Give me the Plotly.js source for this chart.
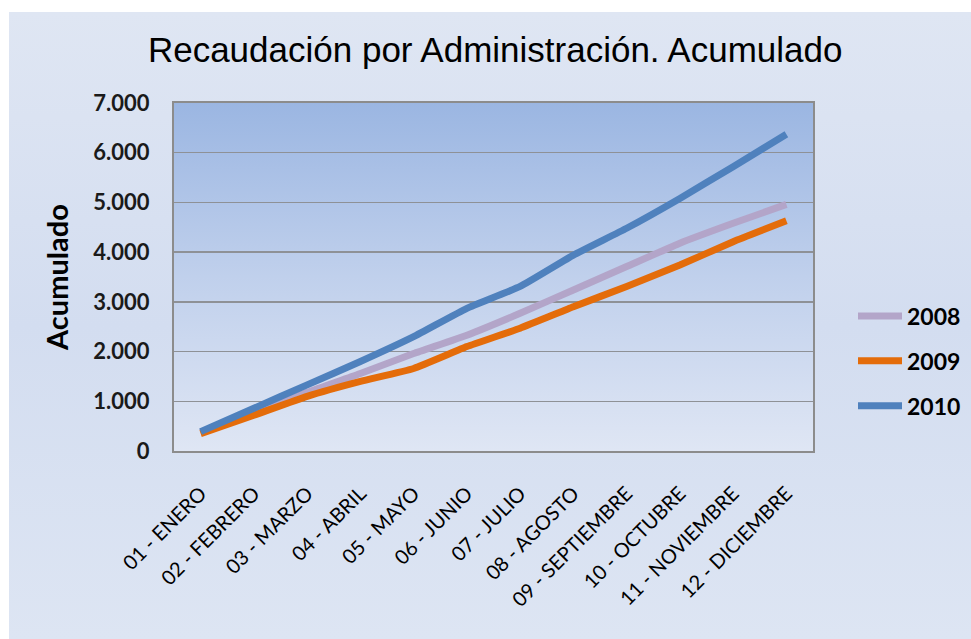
<!DOCTYPE html>
<html>
<head>
<meta charset="utf-8">
<script src="https://cdn.plot.ly/plotly-3.0.1.min.js"></script>
<style>
html,body{margin:0;padding:0;background:#ffffff;}
#chart{width:971px;height:639px;}
</style>
</head>
<body>
<div id="chart"></div>
<script>
const months = ["01 - ENERO","02 - FEBRERO","03 - MARZO","04 - ABRIL","05 - MAYO","06 - JUNIO","07 - JULIO","08 - AGOSTO","09 - SEPTIEMBRE","10 - OCTUBRE","11 - NOVIEMBRE","12 - DICIEMBRE"];
const seriesNames = ["2008","2009","2010"];
const values2008 = [370, 740, 1180, 1560, 1960, 2330, 2770, 3240, 3710, 4180, 4580, 4960];
const values2009 = [350, 720, 1100, 1400, 1660, 2100, 2470, 2900, 3310, 3740, 4210, 4630];
const values2010 = [390, 860, 1330, 1800, 2300, 2870, 3310, 3940, 4480, 5080, 5720, 6370];
const yTickVals = [0,1000,2000,3000,4000,5000,6000,7000];
const yTickText = ["0","1.000","2.000","3.000","4.000","5.000","6.000","7.000"];
const colors = ["#b3a5c9","#e46c0a","#4f81bd"];

function svgGrad(stops, w, h){
  let s = '<svg xmlns="http://www.w3.org/2000/svg" width="'+w+'" height="'+h+'" preserveAspectRatio="none"><defs><linearGradient id="g" x1="0" y1="0" x2="0" y2="1">';
  stops.forEach(function(st){ s += '<stop offset="'+st[0]+'" stop-color="'+st[1]+'"/>'; });
  s += '</linearGradient></defs><rect width="'+w+'" height="'+h+'" fill="url(#g)"/></svg>';
  return 'data:image/svg+xml;charset=utf-8,' + encodeURIComponent(s);
}

const allVals = [values2008, values2009, values2010];
const traces = seriesNames.map(function(n,i){
  return {
    x: months, y: allVals[i], name: n, type: 'scatter', mode: 'lines',
    line: {color: colors[i], width: 7, shape: 'spline', smoothing: 0.4},
    legendgroup: 'g'+i, hoverinfo: 'skip'
  };
});

const L = 174, R = 813, T = 103, B = 451, W = 971, H = 639;
const pw = R - L, ph = B - T;
function px2x(p){ return (p - L) / pw; }
function py2y(p){ return (B - p) / ph; }

const layout = {
  width: W, height: H,
  margin: {l: L, r: W - R, t: T, b: H - B, pad: 0, autoexpand: false},
  paper_bgcolor: '#ffffff',
  plot_bgcolor: 'rgba(0,0,0,0)',
  showlegend: true,
  title: {
    text: 'Recaudación por Administración. Acumulado',
    font: {family: 'Liberation Sans, Arial, sans-serif', size: 35, color: '#000000'},
    x: 0.51, xanchor: 'center', xref: 'container',
    y: 1 - 50/639, yanchor: 'middle', yref: 'container'
  },
  xaxis: {
    type: 'category',
    range: [-0.5, months.length - 0.5],
    tickangle: -45,
    tickfont: {family: 'Lato, Open Sans, sans-serif', size: 20, color: '#000000'},
    ticklabelstandoff: 21,
    showgrid: false,
    showline: true, linecolor: '#8c8c8c', linewidth: 2, mirror: true,
    ticks: '', zeroline: false, fixedrange: true
  },
  yaxis: {
    range: [0, 7000],
    tickvals: yTickVals, ticktext: yTickText,
    tickfont: {family: 'Lato, Open Sans, sans-serif', size: 22, color: '#1a1a1a', weight: 'bold'},
    ticklabelstandoff: 18,
    showgrid: true, gridcolor: '#8e9196', gridwidth: 1.5,
    showline: true, linecolor: '#8c8c8c', linewidth: 2, mirror: true,
    ticks: '', zeroline: false, fixedrange: true,
    title: {text: 'Acumulado', standoff: 16,
      font: {family: 'Lato, Open Sans, sans-serif', size: 29, color: '#000000', weight: 'bold'}}
  },
  legend: {
    xref: 'container', yref: 'container',
    x: 966 / W, xanchor: 'right',
    y: 1 - 361 / H, yanchor: 'middle',
    traceorder: 'grouped', tracegroupgap: 12,
    itemwidth: 44,
    bgcolor: 'rgba(0,0,0,0)',
    font: {family: 'Lato, Open Sans, sans-serif', size: 23, color: '#000000', weight: 'bold'}
  },
  images: [
    {
      source: svgGrad([[0,'#dfe6f3'],[0.5,'#d3ddf0'],[1,'#dde5f3']], 100, 100),
      xref: 'paper', yref: 'paper',
      x: px2x(9), y: py2y(12), sizex: (W - 9) / pw, sizey: (H - 12) / ph,
      xanchor: 'left', yanchor: 'top', sizing: 'stretch', layer: 'below'
    },
    {
      source: svgGrad([[0,'#9bb6e2'],[0.5,'#c0d0ec'],[1,'#dfe6f4']], 100, 100),
      xref: 'paper', yref: 'paper',
      x: 0, y: 1, sizex: 1, sizey: 1,
      xanchor: 'left', yanchor: 'top', sizing: 'stretch', layer: 'below'
    }
  ]
};

Plotly.newPlot('chart', traces, layout, {displayModeBar: false, staticPlot: true});
</script>
</body>
</html>
